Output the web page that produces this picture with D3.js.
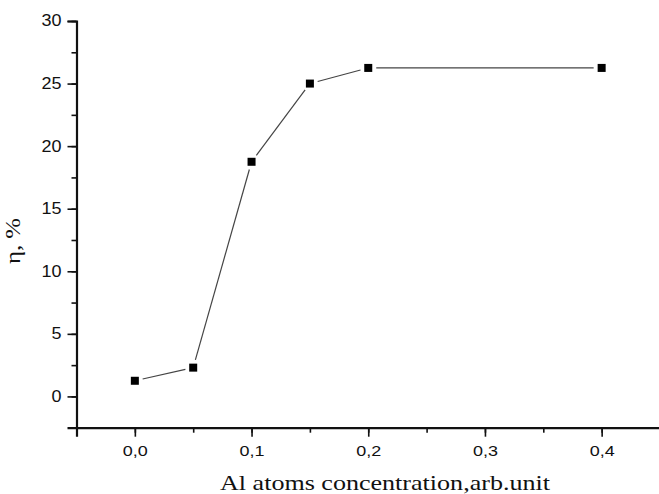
<!DOCTYPE html>
<html>
<head>
<meta charset="utf-8">
<script src="https://cdn.jsdelivr.net/npm/d3@7"></script>
<style>
  html, body { margin: 0; padding: 0; background: #fff; }
  svg { display: block; }
  .tick text { font-family: Arial, "Liberation Sans", sans-serif; fill: #111; }
</style>
</head>
<body>
<svg id="chart" width="659" height="494"></svg>
<script>
// data
const concentration = [0.0, 0.05, 0.1, 0.15, 0.2, 0.4];
const efficiency = [1.25, 2.3, 18.75, 25.0, 26.25, 26.25];
const xTicks = [0.0, 0.1, 0.2, 0.3, 0.4];
const yTicks = [0, 5, 10, 15, 20, 25, 30];
const xTitle = "Al atoms concentration,arb.unit";
const yTitle = "η, %";

const svg = d3.select("#chart");
const x = d3.scaleLinear().domain([-0.05, 0.45]).range([76.5, 660]);
const y = d3.scaleLinear().domain([-2.5, 30]).range([427.7, 21]);

const fmt = d => d3.format(".1f")(d).replace(".", ",");

// minor ticks first, then major ticks with labels
const xMinor = d3.range(-0.05, 0.451, 0.05);
const yMinor = d3.range(-2.5, 30.1, 2.5);

svg.append("g").attr("transform", "translate(0,427.7)")
  .call(d3.axisBottom(x).tickValues(xMinor).tickSize(5).tickFormat(""))
  .call(g => g.select(".domain").remove())
  .selectAll("line").attr("stroke", "#111").attr("stroke-width", 1.6);

svg.append("g").attr("transform", "translate(76.5,0)")
  .call(d3.axisLeft(y).tickValues(yMinor).tickSize(5).tickFormat(""))
  .call(g => g.select(".domain").remove())
  .selectAll("line").attr("stroke", "#111").attr("stroke-width", 1.6);

const gx = svg.append("g").attr("transform", "translate(0,427.7)")
  .call(d3.axisBottom(x).tickValues(xTicks).tickSize(9).tickPadding(9).tickFormat(fmt));
gx.select(".domain").attr("stroke", "#111").attr("stroke-width", 2.2);
gx.selectAll(".tick line").attr("stroke", "#111").attr("stroke-width", 1.6);
gx.selectAll(".tick text").style("font-size", "15px")
  .attr("textLength", 25).attr("lengthAdjust", "spacingAndGlyphs");

const gy = svg.append("g").attr("transform", "translate(76.5,0)")
  .call(d3.axisLeft(y).tickValues(yTicks).tickSize(9).tickPadding(6));
gy.select(".domain").attr("stroke", "#111").attr("stroke-width", 2.2);
gy.selectAll(".tick line").attr("stroke", "#111").attr("stroke-width", 1.6);
gy.selectAll(".tick text").style("font-size", "16.5px").attr("dy", "0.3em")
  .attr("textLength", d => String(d).length * 10).attr("lengthAdjust", "spacingAndGlyphs");

// connecting segments, trimmed short of the markers
const pts = concentration.map((c, i) => [x(c), y(efficiency[i])]);
const gap = 8;
const segs = d3.pairs(pts).map(([a, b]) => {
  const dx = b[0] - a[0], dy = b[1] - a[1], L = Math.hypot(dx, dy);
  const ux = dx / L, uy = dy / L;
  return [a[0] + ux * gap, a[1] + uy * gap, b[0] - ux * gap, b[1] - uy * gap];
});
svg.append("g").selectAll("line").data(segs).join("line")
  .attr("x1", d => d[0]).attr("y1", d => d[1])
  .attr("x2", d => d[2]).attr("y2", d => d[3])
  .attr("stroke", "#444").attr("stroke-width", 1.2);

const ms = 8;
svg.append("g").selectAll("rect").data(pts).join("rect")
  .attr("x", d => d[0] - ms / 2).attr("y", d => d[1] - ms / 2)
  .attr("width", ms).attr("height", ms).attr("fill", "#000");

// axis titles
svg.append("text")
  .attr("x", 385).attr("y", 490)
  .attr("text-anchor", "middle")
  .attr("font-family", "'Liberation Serif', 'Times New Roman', serif")
  .attr("font-size", 21)
  .attr("textLength", 330).attr("lengthAdjust", "spacingAndGlyphs")
  .attr("fill", "#111")
  .text(xTitle);

svg.append("text")
  .attr("transform", "translate(20,241) rotate(-90)")
  .attr("text-anchor", "middle")
  .attr("font-family", "'Liberation Serif', 'Times New Roman', serif")
  .attr("font-size", 22)
  .attr("textLength", 46).attr("lengthAdjust", "spacingAndGlyphs")
  .attr("fill", "#111")
  .text(yTitle);
</script>
</body>
</html>
